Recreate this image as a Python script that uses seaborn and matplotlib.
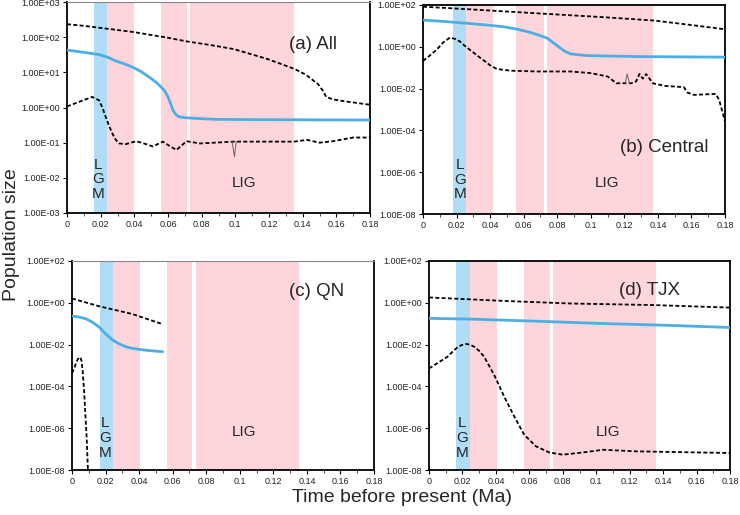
import numpy as np
import pandas as pd
import matplotlib
matplotlib.use("Agg")
import matplotlib.pyplot as plt
import seaborn as sns
from matplotlib.ticker import FuncFormatter, MultipleLocator, FixedLocator

# panel (a) All
a_up_x = [0, 0.010, 0.019, 0.039, 0.059, 0.071, 0.085, 0.099, 0.119, 0.135, 0.142, 0.145, 0.147,
          0.149, 0.152, 0.154, 0.158, 0.165, 0.18]
a_up_y = [234, 210, 186, 141, 98, 76, 60, 46, 24, 12.6, 8.5, 6.6, 5.5,
          4.7, 3.0, 2.0, 1.7, 1.5, 1.2]
a_med_x = [0, 0.010, 0.019, 0.024, 0.029, 0.034, 0.039, 0.044, 0.049, 0.053, 0.056, 0.058, 0.060,
           0.0615, 0.063, 0.0645, 0.066, 0.068, 0.071, 0.080, 0.089, 0.12, 0.18]
a_med_y = [43, 37, 32, 27, 21, 17.5, 14, 10.5, 7.2, 5.2, 3.8, 3.0, 2.0,
           1.3, 0.83, 0.65, 0.56, 0.53, 0.51, 0.48, 0.46, 0.45, 0.44]
a_lo_x = [0, 0.008, 0.015, 0.019, 0.021, 0.023, 0.025, 0.027, 0.029, 0.031, 0.035, 0.041, 0.047,
          0.051, 0.057, 0.061, 0.065, 0.071, 0.079, 0.099, 0.119, 0.135, 0.1425, 0.15, 0.158,
          0.17, 0.18]
a_lo_y = [1.07, 1.5, 2.0, 1.6, 1.0, 0.54, 0.3, 0.18, 0.12, 0.095, 0.091, 0.11, 0.091,
          0.078, 0.107, 0.08, 0.062, 0.11, 0.095, 0.107, 0.107, 0.107, 0.12, 0.10, 0.11,
          0.14, 0.14]
a_spk_x = [0.098, 0.0995, 0.1005]
a_spk_y = [0.11, 0.04, 0.11]

# panel (b) Central
b_up_x = [0, 0.028, 0.068, 0.108, 0.138, 0.16, 0.18]
b_up_y = [83, 62, 40, 26, 18, 11, 6.9]
b_med_x = [0, 0.014, 0.028, 0.038, 0.048, 0.056, 0.064, 0.069, 0.074, 0.078, 0.082, 0.085, 0.088,
           0.093, 0.098, 0.128, 0.18]
b_med_y = [19, 16, 13, 11, 9.1, 7.0, 4.9, 3.6, 2.6, 1.5, 0.85, 0.58, 0.46,
           0.41, 0.38, 0.34, 0.32]
b_lo_x = [0, 0.004, 0.008, 0.012, 0.016, 0.019, 0.022, 0.025, 0.028, 0.032, 0.036, 0.040, 0.044,
          0.052, 0.068, 0.088, 0.1, 0.110, 0.1153, 0.120, 0.124, 0.127, 0.129, 0.131, 0.133,
          0.137, 0.144, 0.1555, 0.1575, 0.1615, 0.1745, 0.1765, 0.18]
b_lo_y = [0.21, 0.38, 0.71, 1.6, 2.75, 2.4, 1.8, 1.1, 0.71, 0.4, 0.23, 0.13, 0.087,
          0.072, 0.066, 0.066, 0.055, 0.038, 0.018, 0.018, 0.018, 0.022, 0.05, 0.03, 0.05,
          0.018, 0.0135, 0.0117, 0.0065, 0.005, 0.0056, 0.0029, 0.00027]
b_spk_x = [0.1205, 0.1217, 0.123]
b_spk_y = [0.018, 0.05, 0.018]

# panel (c) QN
c_up_x = [0, 0.016, 0.036, 0.054]
c_up_y = [1.6, 0.69, 0.29, 0.095]
c_med_x = [0, 0.004, 0.0085, 0.012, 0.016, 0.020, 0.024, 0.028, 0.032, 0.036, 0.040, 0.047, 0.054]
c_med_y = [0.23, 0.21, 0.17, 0.12, 0.071, 0.033, 0.017, 0.011, 0.0079, 0.0066, 0.0059, 0.0051, 0.0046]
c_lo_x = [0, 0.0012, 0.0024, 0.0036, 0.0048, 0.0056, 0.0063, 0.0073, 0.008, 0.0087, 0.0095, 0.0105]
c_lo_y = [4.3e-4, 7e-4, 1.3e-3, 2.1e-3, 2.5e-3, 1.8e-3, 6.2e-4, 4.7e-5, 4e-6, 4.1e-7, 1e-8, 1e-9]

# panel (d) TJX
d_up_x = [0, 0.045, 0.084, 0.134, 0.18]
d_up_y = [1.8, 1.23, 0.93, 0.78, 0.59]
d_med_x = [0, 0.025, 0.064, 0.104, 0.144, 0.18]
d_med_y = [0.18, 0.166, 0.132, 0.102, 0.083, 0.066]
d_lo_x = [0, 0.011, 0.014, 0.017, 0.0195, 0.022, 0.0245, 0.027, 0.030, 0.033, 0.039, 0.045, 0.051,
          0.057, 0.064, 0.072, 0.080, 0.092, 0.104, 0.124, 0.18]
d_lo_y = [7.2e-4, 2.6e-3, 4.5e-3, 7.4e-3, 9.5e-3, 1.07e-2, 1e-2, 7.9e-3, 5e-3, 2.6e-3, 3.5e-4, 3.2e-5, 3.6e-6,
          4.8e-7, 1.35e-7, 6.9e-8, 5.4e-8, 6.9e-8, 9.3e-8, 7.8e-8, 6.5e-8]

# shaded periods: (LGM start, LGM end, pink1 end, pink2 start, pink2 end, pink3 start, pink3 end)
periods = {
    "a": [0.0161, 0.024, 0.0399, 0.0558, 0.0714, 0.0729, 0.1348],
    "b": [0.0179, 0.0259, 0.0418, 0.0557, 0.0724, 0.0742, 0.1369],
    "c": [0.0165, 0.0244, 0.0403, 0.0565, 0.0717, 0.0737, 0.135],
    "d": [0.0163, 0.0245, 0.0405, 0.0566, 0.0724, 0.0742, 0.1356],
}
titles = {"a": "(a) All", "b": "(b) Central", "c": "(c) QN", "d": "(d) TJX"}

sns.set_style("ticks")
plt.rcParams["font.family"] = ["Liberation Sans", "DejaVu Sans"]

BLUE = "#4DAEE6"
LGM_C = "#AEDDF5"
PINK = "#FDD5DA"

fig = plt.figure(figsize=(7.4, 5.15), dpi=100)
W, H = 740, 515
boxes = {
    "a": (67, 2, 370, 213),
    "b": (423, 5, 725, 214),
    "c": (72, 261, 374, 470),
    "d": (429, 261, 730, 470),
}
lines = {
    "a": (a_up_x, a_up_y, a_med_x, a_med_y, a_lo_x, a_lo_y),
    "b": (b_up_x, b_up_y, b_med_x, b_med_y, b_lo_x, b_lo_y),
    "c": (c_up_x, c_up_y, c_med_x, c_med_y, c_lo_x, c_lo_y),
    "d": (d_up_x, d_up_y, d_med_x, d_med_y, d_lo_x, d_lo_y),
}
title_pos = {"a": (0.146, 0.80), "b": (0.1436, 0.32), "c": (0.146, 0.856), "d": (0.132, 0.86)}
lig_pos = {"a": (0.105, 0.14), "b": (0.1096, 0.15), "c": (0.1028, 0.18), "d": (0.107, 0.18)}
lgm_pos = {"a": (0.0186, 0.16), "b": (0.0219, 0.165), "c": (0.0195, 0.153), "d": (0.020, 0.153)}
dash = (0, (2.2, 1.3))

for key, (l, t, r, b) in boxes.items():
    ax = fig.add_axes([l / W, 1 - b / H, (r - l) / W, (b - t) / H])
    p = periods[key]
    ax.axvspan(p[0], p[1], color=LGM_C, lw=0, zorder=0)
    ax.axvspan(p[1], p[2], color=PINK, lw=0, zorder=0)
    ax.axvspan(p[3], p[4], color=PINK, lw=0, zorder=0)
    ax.axvspan(p[5], p[6], color=PINK, lw=0, zorder=0)

    ux, uy, mx, my, lx, ly = lines[key]
    sns.lineplot(x=ux, y=uy, ax=ax, color="black", lw=1.3, linestyle=dash, zorder=3)
    sns.lineplot(x=mx, y=my, ax=ax, color=BLUE, lw=2.0, zorder=3)
    sns.lineplot(x=lx, y=ly, ax=ax, color="black", lw=1.3, linestyle=dash, zorder=3)
    if key == "a":
        sns.lineplot(x=a_spk_x, y=a_spk_y, ax=ax, color="#666666", lw=0.7, zorder=3)
    if key == "b":
        sns.lineplot(x=b_spk_x, y=b_spk_y, ax=ax, color="#666666", lw=0.7, zorder=3)

    ax.set_yscale("log")
    ax.set_xlim(0, 0.18)
    if key == "a":
        ax.set_ylim(1e-3, 1e3)
        ax.yaxis.set_major_locator(FixedLocator([10.0 ** k for k in range(-3, 4)]))
    else:
        ax.set_ylim(1e-8, 1e2)
        ax.yaxis.set_major_locator(FixedLocator([10.0 ** k for k in range(-8, 3, 2)]))
    ax.yaxis.set_minor_locator(FixedLocator([]))
    ax.yaxis.set_major_formatter(FuncFormatter(lambda v, pos: f"{v:.2E}"))
    ax.xaxis.set_major_locator(MultipleLocator(0.02))
    ax.xaxis.set_minor_locator(MultipleLocator(0.01))
    ax.xaxis.set_major_formatter(FuncFormatter(lambda v, pos: f"{v:g}"))
    ax.tick_params(axis="both", which="major", labelsize=6.5, length=3, width=0.8, pad=2, colors="black")
    ax.tick_params(axis="x", which="minor", length=2, width=0.6)
    for lab in ax.get_xticklabels() + ax.get_yticklabels():
        lab.set_color("#222222")
    for s in ax.spines.values():
        s.set_color("black")
        s.set_linewidth(1.3)
    if key in ("a", "c"):
        ax.spines["top"].set_color("#888888")
        ax.spines["top"].set_linewidth(0.8)
    ax.set_xlabel("")
    ax.set_ylabel("")

    tx, ty = title_pos[key]
    ax.text(tx, ty, titles[key], transform=ax.get_xaxis_transform(), ha="center", va="center", fontsize=13.5)
    lx_, ly_ = lig_pos[key]
    ax.text(lx_, ly_, "LIG", transform=ax.get_xaxis_transform(), ha="center", va="center", fontsize=11)
    gx, gy = lgm_pos[key]
    ax.text(gx, gy, "L\nG\nM", transform=ax.get_xaxis_transform(), ha="center", va="center",
            fontsize=11, linespacing=1.05)

fig.text(12 / W, 1 - 235 / H, "Population size", rotation=90, ha="center", va="center", fontsize=14)
fig.text(402 / W, 1 - 497 / H, "Time before present (Ma)", ha="center", va="center", fontsize=14)

fig.savefig("out.png", dpi=100)
